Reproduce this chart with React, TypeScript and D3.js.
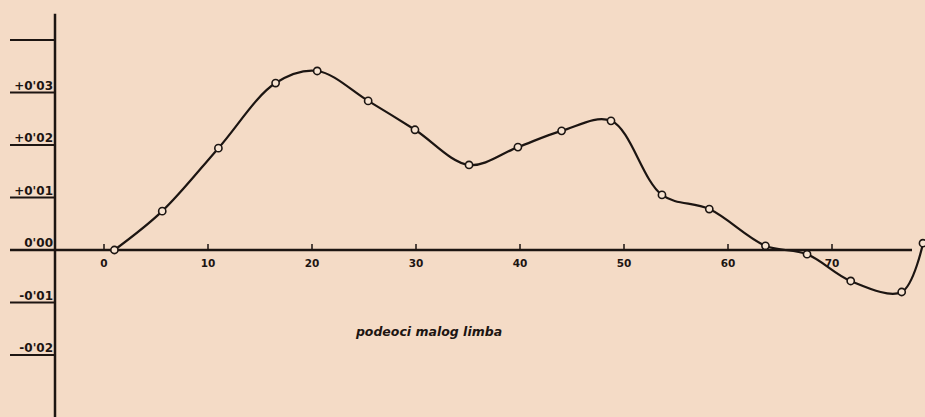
import React from "react";
import * as d3 from "d3";

const xValues = [1, 5.6, 11.0, 16.5, 20.5, 25.4, 29.9, 35.1, 39.8, 44.0, 48.75, 53.65, 58.2, 63.6, 67.6, 71.8, 76.7, 78.75];
const yValues = [0, 0.0074, 0.0194, 0.0318, 0.0341, 0.0284, 0.0229, 0.0162, 0.0196, 0.0227, 0.0246, 0.0105, 0.0078, 0.0008, -0.0008, -0.0059, -0.008, 0.0013];
const xTicks = [0, 10, 20, 30, 40, 50, 60, 70];
const yTicks = [0.03, 0.02, 0.01, 0, -0.01, -0.02];
const yTickLabels = ["+0'03", "+0'02", "+0'01", "0'00", "-0'01", "-0'02"];
const yExtraTick = 0.04;
const xTitle = "podeoci malog limba";

const W = 925;
const H = 417;

export default function App() {
  const x = d3.scaleLinear().domain([0, 70]).range([104, 832]);
  const y = d3.scaleLinear().domain([0, 0.03]).range([250, 92.5]);
  const pts = xValues.map((v, i) => [v, yValues[i]] as [number, number]);
  const line = d3
    .line<[number, number]>()
    .x((d) => x(d[0]))
    .y((d) => y(d[1]))
    .curve(d3.curveCatmullRom.alpha(0.5));
  const axisX = 55;
  const font = "'DejaVu Sans', sans-serif";
  const ink = "#1c1512";
  return (
    <div style={{ position: "fixed", left: 0, top: 0, width: W, height: H, overflow: "hidden" }}>
      <svg width={W} height={H} viewBox={`0 0 ${W} ${H}`} style={{ display: "block", background: "#f4dbc6" }}>
        <rect x={0} y={0} width={W} height={H} fill="#f4dbc6" />
        {/* y axis */}
        <line x1={axisX} x2={axisX} y1={y(0.045)} y2={H + 5} stroke={ink} strokeWidth={2.5} />
        {/* x axis */}
        <line x1={10} x2={912} y1={y(0)} y2={y(0)} stroke={ink} strokeWidth={2.5} />
        {/* y ticks */}
        {[yExtraTick, ...yTicks].map((t) => (
          <line key={"yt" + t} x1={10} x2={axisX} y1={y(t)} y2={y(t)} stroke={ink} strokeWidth={2} />
        ))}
        {yTicks.map((t, i) => (
          <text
            key={"yl" + t}
            x={53}
            y={y(t) - 3}
            textAnchor="end"
            fontFamily={font}
            fontWeight="bold"
            fontSize={12}
            fill={ink}
          >
            {yTickLabels[i]}
          </text>
        ))}
        {/* x ticks */}
        {xTicks.map((t) => (
          <g key={"xt" + t}>
            <line x1={x(t)} x2={x(t)} y1={y(0) - 6} y2={y(0)} stroke={ink} strokeWidth={1.5} />
            <text
              x={x(t)}
              y={y(0) + 17}
              textAnchor="middle"
              fontFamily={font}
              fontWeight="bold"
              fontSize={10.5}
              fill={ink}
            >
              {t}
            </text>
          </g>
        ))}
        {/* curve */}
        <path d={line(pts) || ""} fill="none" stroke={ink} strokeWidth={2.2} strokeLinejoin="round" />
        {pts.map((d, i) => (
          <circle key={"p" + i} cx={x(d[0])} cy={y(d[1])} r={3.6} fill="#f7e4d2" stroke={ink} strokeWidth={1.6} />
        ))}
        <text
          x={429}
          y={336}
          textAnchor="middle"
          fontFamily={font}
          fontWeight="bold"
          fontStyle="italic"
          fontSize={12.5}
          fill={ink}
        >
          {xTitle}
        </text>
      </svg>
    </div>
  );
}
